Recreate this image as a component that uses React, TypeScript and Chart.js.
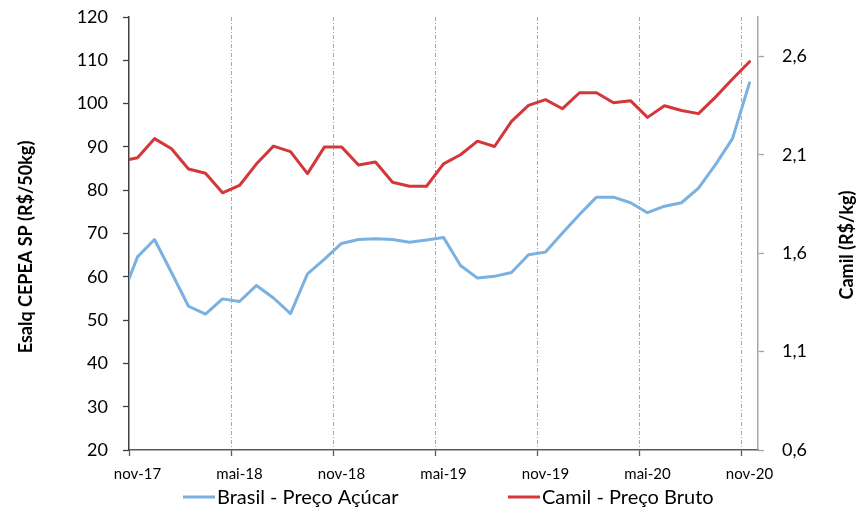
import React, { useEffect, useRef } from 'react';
import { Chart, registerables } from 'chart.js';

Chart.register(...registerables);

// ---- data ----
const monthOffsets = [0, 0.5, 1.5, 2.5, 3.5, 4.5, 5.5, 6.5, 7.5, 8.5, 9.5, 10.5, 11.5, 12.5, 13.5, 14.5, 15.5, 16.5, 17.5, 18.5, 19.5, 20.5, 21.5, 22.5, 23.5, 24.5, 25.5, 26.5, 27.5, 28.5, 29.5, 30.5, 31.5, 32.5, 33.5, 34.5, 35.5, 36.5];
const brasilAcucar = [59.5, 64.6, 68.6, 61.0, 53.2, 51.4, 54.9, 54.3, 58.0, 55.1, 51.5, 60.7, 64.1, 67.7, 68.6, 68.8, 68.6, 68.0, 68.5, 69.1, 62.6, 59.7, 60.1, 61.0, 65.1, 65.7, 70.1, 74.4, 78.4, 78.4, 77.1, 74.8, 76.3, 77.1, 80.5, 85.9, 91.9, 104.8];
const camilBruto = [2.076, 2.085, 2.182, 2.131, 2.028, 2.006, 1.907, 1.944, 2.054, 2.144, 2.116, 2.004, 2.140, 2.140, 2.048, 2.063, 1.960, 1.940, 1.940, 2.054, 2.100, 2.169, 2.142, 2.270, 2.351, 2.380, 2.334, 2.415, 2.415, 2.364, 2.375, 2.290, 2.349, 2.325, 2.309, 2.393, 2.485, 2.573];
const seriesLabels = ['Brasil - Preço Açúcar', 'Camil - Preço Bruto'];
const xTickPositions = [0, 6, 12, 18, 24, 30, 36];
const xTickLabels = ['nov-17', 'mai-18', 'nov-18', 'mai-19', 'nov-19', 'mai-20', 'nov-20'];
const rightTicks = [0.6, 1.1, 1.6, 2.1, 2.6];
const leftTitle = 'Esalq CEPEA SP (R$/50kg)';
const rightTitle = 'Camil (R$/kg)';

const FONT = 'Lato, "Open Sans", sans-serif';
const BLUE = '#7BB1E1';
const RED = '#D3373A';

const decorPlugin = {
  id: 'decor',
  afterDraw(chart: any) {
    const ctx = chart.ctx;
    ctx.save();
    ctx.fillStyle = '#000';
    ctx.font = `bold 18px ${FONT}`;
    ctx.textAlign = 'center';
    ctx.textBaseline = 'middle';
    // left title
    ctx.save();
    ctx.translate(26, 247);
    ctx.rotate(-Math.PI / 2);
    ctx.fillText(leftTitle, 0, 0);
    ctx.restore();
    // right title
    ctx.save();
    ctx.translate(847, 245);
    ctx.rotate(-Math.PI / 2);
    ctx.fillText(rightTitle, 0, 0);
    ctx.restore();
    // legend
    const starts = [183, 508];
    const y = 497;
    ctx.font = `20px ${FONT}`;
    ctx.textAlign = 'left';
    chart.data.datasets.forEach((ds: any, i: number) => {
      const x0 = starts[i];
      ctx.strokeStyle = ds.borderColor;
      ctx.lineWidth = 3;
      ctx.beginPath();
      ctx.moveTo(x0, y);
      ctx.lineTo(x0 + 32, y);
      ctx.stroke();
      ctx.fillStyle = '#000';
      ctx.fillText(ds.label, x0 + 34, y + 1);
    });
    ctx.restore();
  },
};

export default function App() {
  const ref = useRef<HTMLCanvasElement | null>(null);
  useEffect(() => {
    document.body.style.margin = '0';
    const canvas = ref.current!;
    const chart = new Chart(canvas, {
      type: 'line',
      data: {
        datasets: [
          {
            label: seriesLabels[0],
            data: monthOffsets.map((x, i) => ({ x, y: brasilAcucar[i] })),
            borderColor: BLUE,
            backgroundColor: BLUE,
            borderWidth: 3,
            pointRadius: 0,
            tension: 0,
            borderJoinStyle: 'round',
            borderCapStyle: 'round',
            yAxisID: 'y',
          },
          {
            label: seriesLabels[1],
            data: monthOffsets.map((x, i) => ({ x, y: camilBruto[i] })),
            borderColor: RED,
            backgroundColor: RED,
            borderWidth: 3,
            pointRadius: 0,
            tension: 0,
            borderJoinStyle: 'round',
            borderCapStyle: 'round',
            yAxisID: 'y1',
          },
        ],
      },
      options: {
        animation: false,
        responsive: false,
        maintainAspectRatio: false,
        layout: { padding: { top: 17, left: 0, right: 0, bottom: 0 } },
        plugins: { legend: { display: false }, tooltip: { enabled: false } },
        scales: {
          x: {
            type: 'linear',
            min: 0,
            max: 37,
            afterBuildTicks: (axis: any) => {
              axis.ticks = xTickPositions.map((v) => ({ value: v }));
            },
            afterFit: (s: any) => {
              s.height = 60;
              s.paddingLeft = 0;
              s.paddingRight = 0;
            },
            ticks: {
              autoSkip: false,
              maxRotation: 0,
              padding: 9,
              labelOffset: 8.5,
              color: '#000',
              font: { family: FONT, size: 15 },
              callback: (v: any) => {
                const idx = xTickPositions.indexOf(Number(v));
                return idx >= 0 ? xTickLabels[idx] : '';
              },
            },
            grid: {
              drawOnChartArea: true,
              drawTicks: true,
              tickLength: 6,
              lineWidth: 1,
              color: (c: any) => (c.tick && c.tick.value === 0 ? 'rgba(0,0,0,0)' : '#A6A6A6'),
              tickColor: '#595959',
              tickWidth: 1.3,
            },
            border: { display: true, color: '#595959', width: 1.5, dash: [4, 2, 1, 2] },
          },
          y: {
            type: 'linear',
            position: 'left',
            min: 20,
            max: 120,
            afterFit: (s: any) => {
              s.width = 129;
              s.paddingTop = 0;
              s.paddingBottom = 0;
            },
            ticks: {
              stepSize: 10,
              padding: 15,
              color: '#000',
              font: { family: FONT, size: 18 },
            },
            grid: { drawOnChartArea: false, drawTicks: true, tickLength: 6, tickColor: '#404040', tickWidth: 1.3 },
            border: { display: true, color: '#404040', width: 1.5 },
          },
          y1: {
            type: 'linear',
            position: 'right',
            min: 0.6,
            max: 2.8,
            afterBuildTicks: (axis: any) => {
              axis.ticks = rightTicks.map((v) => ({ value: v }));
            },
            afterFit: (s: any) => {
              s.width = 100;
              s.paddingTop = 0;
              s.paddingBottom = 0;
            },
            ticks: {
              padding: 18,
              color: '#000',
              font: { family: FONT, size: 18 },
              callback: (v: any) => Number(v).toFixed(1).replace('.', ','),
            },
            grid: { drawOnChartArea: false, drawTicks: true, tickLength: 6, tickColor: '#A6A6A6', tickWidth: 1.3 },
            border: { display: true, color: '#A6A6A6', width: 1.5 },
          },
        },
      },
      plugins: [decorPlugin],
    } as any);
    return () => chart.destroy();
  }, []);
  return (
    <div style={{ position: 'absolute', left: 0, top: 0, width: 858, height: 510 }}>
      <canvas ref={ref} width={858} height={510} style={{ display: 'block', width: 858, height: 510 }} />
    </div>
  );
}
